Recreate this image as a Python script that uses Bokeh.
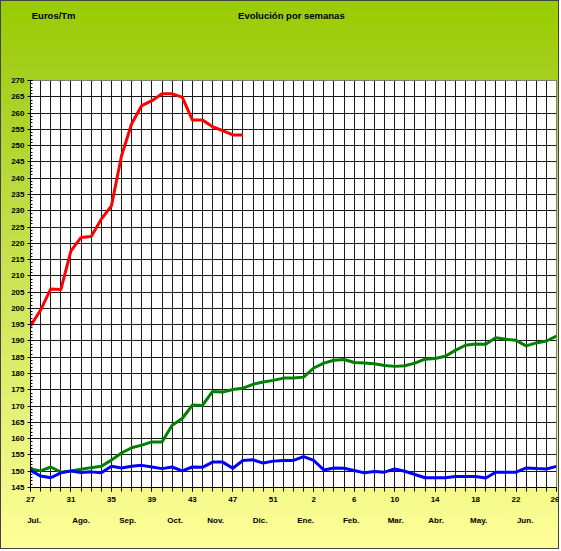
from bokeh.plotting import figure
from bokeh.models import Range1d, FixedTicker, LinearAxis, CustomJSTickFormatter, Grid
from bokeh.embed import file_html
from bokeh.resources import INLINE

# ---- data ----
weeks = list(range(27, 54)) + list(range(1, 27))          # 53-week campaign, index 0..52
week_tick_labels = ["27", "31", "35", "39", "43", "47", "51", "2", "6", "10", "14", "18", "22", "26"]
month_labels = ["Jul.", "Ago.", "Sep.", "Oct.", "Nov.", "Dic.", "Ene.", "Feb.", "Mar.", "Abr.", "May.", "Jun."]
month_pos = [0.35, 5.0, 9.6, 14.3, 18.3, 22.7, 27.2, 31.7, 36.1, 40.1, 44.3, 48.9]
header_labels = ["Euros/Tm", "Evolución por semanas"]
header_pos = [2.29, 25.79]

red = [194.6, 199.5, 206.0, 205.8, 217.7, 221.8, 222.1, 227.4, 231.5, 246.9, 256.7,
       262.3, 263.8, 265.9, 265.9, 264.9, 257.9, 257.9, 255.8, 254.6, 253.3, 253.3]
green = [150.7, 150.1, 151.3, 149.7, 150.1, 150.6, 151.1, 151.5, 153.4, 155.6, 157.2,
         158.0, 159.0, 159.0, 164.1, 166.2, 170.3, 170.2, 174.5, 174.3, 175.1, 175.5,
         176.7, 177.4, 177.9, 178.6, 178.6, 178.9, 181.7, 183.2, 184.1, 184.3, 183.4,
         183.2, 183.0, 182.5, 182.2, 182.4, 183.2, 184.4, 184.6, 185.3, 187.1, 188.7,
         189.1, 189.0, 191.0, 190.5, 190.2, 188.5, 189.4, 190.0, 191.5]
blue = [150.3, 148.5, 148.0, 149.5, 150.1, 149.6, 149.8, 149.5, 151.5, 151.0, 151.5,
        151.8, 151.3, 150.8, 151.3, 150.1, 151.3, 151.2, 152.8, 152.8, 150.9, 153.3,
        153.5, 152.5, 153.1, 153.3, 153.3, 154.5, 153.3, 150.4, 151.0, 150.9, 150.2,
        149.5, 149.9, 149.7, 150.7, 150.0, 149.0, 148.0, 148.0, 148.0, 148.4, 148.4,
        148.4, 147.9, 149.7, 149.7, 149.7, 151.0, 150.8, 150.7, 151.5]

idx_all = list(range(len(weeks)))
FONT = "Liberation Sans"

p = figure(width=559, height=549, output_backend="svg", toolbar_location=None,
           x_range=Range1d(0, 52), y_range=Range1d(145, 270),
           min_border_left=30, min_border_right=3, min_border_top=80, min_border_bottom=62,
           x_axis_type=None)
p.border_fill_color = None
p.background_fill_color = "white"
p.outline_line_color = "#808080"
p.styles = {"background": "linear-gradient(to bottom, #99cc00 0%, #a6d021 15%, #ffff99 100%)",
            "outline": "1px solid #444", "outline-offset": "-1px"}

# grid
p.ygrid.ticker = FixedTicker(ticks=list(range(145, 271, 5)))
p.ygrid.grid_line_color = "#1a1a1a"
p.ygrid.grid_line_alpha = 1
p.add_layout(Grid(dimension=0, ticker=FixedTicker(ticks=idx_all),
                  grid_line_color="#1a1a1a", grid_line_width=1))

# y axis
ya = p.yaxis[0]
ya.ticker = FixedTicker(ticks=list(range(145, 271, 5)), minor_ticks=list(range(145, 271)))
ya.major_label_text_font = FONT
ya.major_label_text_font_style = "bold"
ya.major_label_text_font_size = "8px"
ya.major_label_text_color = "black"
ya.major_tick_in = 2
ya.major_tick_out = 3
ya.minor_tick_in = 2
ya.minor_tick_out = 0
ya.major_label_standoff = 3
ya.axis_line_color = "black"

# x axis: week numbers
xa = LinearAxis(ticker=FixedTicker(ticks=list(range(0, 53, 4)), minor_ticks=idx_all))
xa.major_label_overrides = {i * 4: lab for i, lab in enumerate(week_tick_labels)}
xa.major_label_text_font = FONT
xa.major_label_text_font_style = "bold"
xa.major_label_text_font_size = "8px"
xa.major_label_text_color = "black"
xa.major_tick_in = 0
xa.major_tick_out = 4
xa.minor_tick_in = 0
xa.minor_tick_out = 4
xa.major_label_standoff = 5
xa.axis_line_color = "black"
p.add_layout(xa, "below")

# x axis: months
ma = LinearAxis(ticker=FixedTicker(ticks=month_pos, minor_ticks=[]))
ma.formatter = CustomJSTickFormatter(args=dict(pos=month_pos, labs=month_labels), code="""
    let best = 0, d = 1e9;
    for (let i = 0; i < pos.length; i++) { const dd = Math.abs(pos[i] - tick); if (dd < d) { d = dd; best = i; } }
    return labs[best];
""")
ma.major_label_text_font = FONT
ma.major_label_text_font_style = "bold"
ma.major_label_text_font_size = "8px"
ma.major_label_text_color = "black"
ma.axis_line_color = None
ma.major_tick_line_color = None
ma.minor_tick_line_color = None
ma.major_label_standoff = 5
p.add_layout(ma, "below")

# header row (unit + title) carried by an axis above the frame
ha = LinearAxis(ticker=FixedTicker(ticks=header_pos, minor_ticks=[]))
ha.formatter = CustomJSTickFormatter(args=dict(pos=header_pos, labs=header_labels), code="""
    let best = 0, d = 1e9;
    for (let i = 0; i < pos.length; i++) { const dd = Math.abs(pos[i] - tick); if (dd < d) { d = dd; best = i; } }
    return labs[best];
""")
ha.major_label_text_font = FONT
ha.major_label_text_font_style = "bold"
ha.major_label_text_font_size = "9.5px"
ha.major_label_text_color = "black"
ha.axis_line_color = None
ha.major_tick_line_color = None
ha.minor_tick_line_color = None
ha.major_label_standoff = 54
p.add_layout(ha, "above")

# series
p.line(idx_all[:len(red)], red, line_color="#ff0000", line_width=3, line_join="round")
p.line(idx_all, green, line_color="#008000", line_width=3, line_join="round")
p.line(idx_all, blue, line_color="#0000ff", line_width=3, line_join="round")

open("out.html", "w").write(file_html(p, INLINE))
